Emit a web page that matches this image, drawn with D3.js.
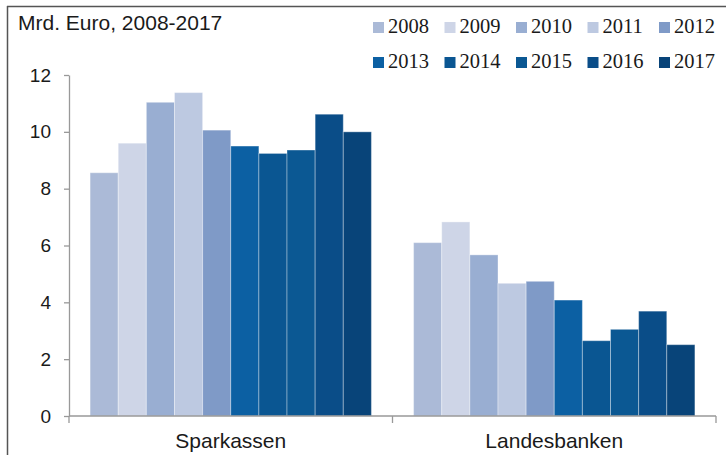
<!DOCTYPE html>
<html>
<head>
<meta charset="utf-8">
<script src="https://cdn.jsdelivr.net/npm/d3@7"></script>
<style>
  body { margin: 0; background: #fff; }
  svg { display: block; }
</style>
</head>
<body>
<svg width="726" height="455"></svg>
<script>
// data
var categories = ["Sparkassen", "Landesbanken"];
var years = ["2008", "2009", "2010", "2011", "2012", "2013", "2014", "2015", "2016", "2017"];
var sparkassen = [8.56, 9.60, 11.04, 11.38, 10.06, 9.50, 9.24, 9.36, 10.62, 10.00];
var landesbanken = [6.10, 6.83, 5.67, 4.67, 4.74, 4.08, 2.65, 3.05, 3.69, 2.51];
var yTicks = [0, 2, 4, 6, 8, 10, 12];
var colors = ["#abbad7", "#ced5e7", "#99aed2", "#bdc9e1", "#7f9ac7",
              "#0c60a3", "#0a5692", "#0b5893", "#0a4d88", "#084479"];

var svg = d3.select("svg");

// frame
svg.append("line").attr("x1", 7.5).attr("x2", 7.5).attr("y1", 6).attr("y2", 455)
    .attr("stroke", "#555").attr("stroke-width", 1.5);
svg.append("line").attr("x1", 7).attr("x2", 726).attr("y1", 6.5).attr("y2", 6.5)
    .attr("stroke", "#555").attr("stroke-width", 1.5);

// subtitle
svg.append("text").attr("x", 18).attr("y", 30)
    .attr("font-family", "Liberation Sans, Arial, sans-serif")
    .attr("font-size", 21).attr("fill", "#1a1a1a")
    .text("Mrd. Euro, 2008-2017");

var x0 = d3.scaleBand().domain(categories).range([69, 716]).paddingInner(0).paddingOuter(0);
var x1 = d3.scaleBand().domain(years).range([0, x0.bandwidth()]).paddingInner(0).paddingOuter(0.75);
var y = d3.scaleLinear().domain([0, 12]).range([416, 75]);
var color = d3.scaleOrdinal().domain(years).range(colors);

var table = categories.map(function(c, i) {
    var vals = i == 0 ? sparkassen : landesbanken;
    return { cat: c, values: years.map(function(yr, j) { return { year: yr, value: vals[j] }; }) };
});

// bars
var groups = svg.append("g").selectAll("g")
    .data(table)
    .enter().append("g")
    .attr("transform", function(d) { return "translate(" + x0(d.cat) + ",0)"; });

groups.selectAll("rect")
    .data(function(d) { return d.values; })
    .enter().append("rect")
    .attr("x", function(d) { return x1(d.year); })
    .attr("y", function(d) { return y(d.value); })
    .attr("width", x1.bandwidth())
    .attr("height", function(d) { return y(0) - y(d.value); })
    .attr("fill", function(d) { return color(d.year); })
    .attr("stroke", "rgba(255,255,255,0.35)")
    .attr("stroke-width", 1);

// y axis
var yAxis = svg.append("g")
    .attr("transform", "translate(69,0)")
    .call(d3.axisLeft(y).tickValues(yTicks).tickSize(5).tickPadding(13).tickSizeOuter(0));
yAxis.select(".domain").attr("stroke", "#999").attr("stroke-width", 1.3);
yAxis.selectAll(".tick line").attr("stroke", "#999").attr("stroke-width", 1.3);
yAxis.selectAll("text")
    .attr("font-family", "Liberation Sans, Arial, sans-serif")
    .attr("font-size", 19).attr("fill", "#1a1a1a");

// x axis
var xAxisG = svg.append("g");
xAxisG.append("line").attr("x1", 69).attr("x2", 716).attr("y1", y(0)).attr("y2", y(0))
    .attr("stroke", "#999").attr("stroke-width", 1.5);
var bounds = [x0.range()[0]].concat(categories.map(function(c) { return x0(c) + x0.bandwidth(); }));
xAxisG.selectAll(".xt").data(bounds).enter().append("line")
    .attr("x1", function(d) { return d; }).attr("x2", function(d) { return d; })
    .attr("y1", y(0)).attr("y2", y(0) + 7)
    .attr("stroke", "#999").attr("stroke-width", 1.3);
xAxisG.selectAll(".xl").data(categories).enter().append("text")
    .attr("x", function(d) { return x0(d) + x0.bandwidth() / 2; })
    .attr("y", 448)
    .attr("text-anchor", "middle")
    .attr("font-family", "Liberation Sans, Arial, sans-serif")
    .attr("font-size", 21).attr("fill", "#1a1a1a")
    .text(function(d) { return d; });

// legend
var legend = svg.append("g").selectAll("g")
    .data(years)
    .enter().append("g")
    .attr("transform", function(d, i) {
        return "translate(" + (373 + (i % 5) * 71.5) + "," + (Math.floor(i / 5) * 35) + ")";
    });
legend.append("rect")
    .attr("x", 0).attr("y", 22).attr("width", 11).attr("height", 11)
    .attr("fill", function(d) { return color(d); });
legend.append("text")
    .attr("x", 15).attr("y", 33)
    .attr("font-family", "Liberation Serif, Times New Roman, serif")
    .attr("font-size", 20.5).attr("fill", "#1a1a1a")
    .text(function(d) { return d; });
</script>
</body>
</html>
